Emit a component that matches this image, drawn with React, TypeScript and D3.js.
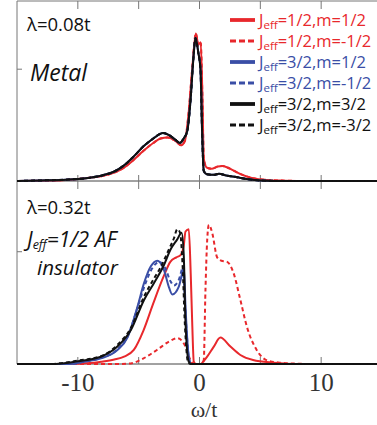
import * as d3 from "d3";

// omega/t, DOS pairs
const topJ12: [number, number][] = [
  [-15, 0], [-13, 0.003], [-11, 0.01], [-9, 0.03], [-8, 0.045], [-7, 0.075], [-6.2, 0.12],
  [-5.4, 0.19], [-4.6, 0.27], [-3.8, 0.34], [-3.2, 0.38], [-2.6, 0.39], [-2.0, 0.36],
  [-1.5, 0.32], [-1.2, 0.36], [-0.9, 0.6], [-0.6, 1.0], [-0.3, 1.32], [-0.1, 1.22],
  [0.1, 1.24], [0.25, 0.7], [0.35, 0.2], [0.6, 0.12], [1.0, 0.11], [1.5, 0.13],
  [1.9, 0.135], [2.5, 0.11], [3.2, 0.07], [4.2, 0.03], [5.5, 0.01], [7, 0.003], [9, 0], [15, 0],
];
const topJ32: [number, number][] = [
  [-15, 0], [-13, 0.005], [-11, 0.012], [-9, 0.03], [-8, 0.05], [-7, 0.085], [-6.2, 0.14],
  [-5.4, 0.22], [-4.6, 0.31], [-3.8, 0.38], [-3.0, 0.43], [-2.5, 0.41], [-2.0, 0.37],
  [-1.6, 0.34], [-1.3, 0.38], [-1.0, 0.45], [-0.74, 0.72], [-0.5, 1.1], [-0.33, 1.28],
  [-0.1, 1.15], [0.08, 1.0], [0.22, 0.42], [0.35, 0.09], [0.6, 0.06], [1.2, 0.055],
  [1.6, 0.065], [2.2, 0.05], [3, 0.035], [4, 0.015], [5, 0.005], [7, 0], [15, 0],
];

const botJ12m12: [number, number][] = [
  [-15, 0], [-11, 0], [-9, 0.008], [-8.1, 0.02], [-7, 0.04], [-6.2, 0.065], [-5.4, 0.125],
  [-4.6, 0.3], [-3.8, 0.54], [-2.95, 0.78], [-2.4, 0.91], [-1.9, 0.95], [-1.56, 0.97],
  [-1.3, 1.05], [-1.15, 1.18], [-0.88, 1.2], [-0.72, 0.8], [-0.6, 0.37], [-0.47, 0.02],
  [-0.3, 0], [0.1, 0], [0.3, 0.02], [0.63, 0.065], [1.15, 0.15], [1.72, 0.235],
  [2.54, 0.155], [3.36, 0.08], [4.4, 0.035], [6.1, 0.012], [8, 0], [15, 0],
];
const botJ12m_12: [number, number][] = [
  [-15, 0], [-6.5, 0], [-5.65, 0.005], [-4.6, 0.05], [-3.5, 0.125], [-2.5, 0.2], [-1.83, 0.23],
  [-1.15, 0.155], [-0.74, 0.035], [-0.5, 0], [0.2, 0], [0.35, 0.035], [0.49, 0.66],
  [0.63, 1.1], [0.77, 1.24], [1.04, 1.17], [1.45, 0.95], [1.8, 0.92], [2.27, 0.91],
  [2.8, 0.81], [3.36, 0.57], [3.9, 0.33], [4.7, 0.125], [5.5, 0.035], [6.6, 0.012],
  [8, 0.003], [9, 0], [15, 0],
];
const botJ32m12: [number, number][] = [
  [-15, 0], [-10.8, 0], [-9.5, 0.02], [-8.1, 0.05], [-6.75, 0.125], [-5.9, 0.24], [-5.1, 0.51],
  [-4.56, 0.72], [-4.0, 0.87], [-3.47, 0.92], [-2.93, 0.84], [-2.5, 0.68], [-2.24, 0.62],
  [-1.7, 0.69], [-1.4, 0.82], [-1.29, 0.87], [-1.15, 0.51], [-0.88, 0.065], [-0.7, 0], [15, 0],
];
const botJ32m_12: [number, number][] = [
  [-15, 0], [-10.5, 0], [-9.5, 0.02], [-8.1, 0.055], [-6.75, 0.13], [-5.9, 0.25], [-5.1, 0.5],
  [-4.5, 0.7], [-3.9, 0.85], [-3.3, 0.91], [-2.8, 0.85], [-2.4, 0.74], [-2.1, 0.7],
  [-1.7, 0.75], [-1.35, 0.86], [-1.2, 0.55], [-0.9, 0.08], [-0.7, 0], [15, 0],
];
const botJ32m32: [number, number][] = [
  [-15, 0], [-12.2, 0], [-10, 0.025], [-8.1, 0.065], [-6.75, 0.155], [-5.65, 0.3], [-4.56, 0.57],
  [-3.75, 0.72], [-2.93, 0.88], [-2.38, 1.02], [-1.83, 1.11], [-1.47, 1.17], [-1.29, 0.96],
  [-1.15, 0.37], [-0.88, 0.02], [-0.7, 0], [15, 0],
];
const botJ32m_32: [number, number][] = [
  [-15, 0], [-12.5, 0], [-10, 0.03], [-8.1, 0.07], [-6.75, 0.17], [-5.65, 0.32], [-4.56, 0.6],
  [-3.75, 0.76], [-3.2, 0.86], [-2.6, 1.0], [-2.1, 1.12], [-1.83, 1.2], [-1.6, 1.17],
  [-1.4, 0.9], [-1.2, 0.35], [-0.95, 0.02], [-0.75, 0], [15, 0],
];

const legendJ = ["1/2", "1/2", "3/2", "3/2", "3/2", "3/2"];
const legendM = ["1/2", "-1/2", "1/2", "-1/2", "3/2", "-3/2"];
const colors = ["#e8282c", "#e8282c", "#3a4ea6", "#3a4ea6", "#111111", "#111111"];
const dashed = [false, true, false, true, false, true];

const xTicks = [-10, 0, 10];
const xMinor = [-10, -5, 0, 5, 10];

const topSeries = [topJ12, topJ12, topJ32, topJ32, topJ32, topJ32];
const botSeries = [botJ12m12, botJ12m_12, botJ32m12, botJ32m_12, botJ32m32, botJ32m_32];
const botOrder = [1, 0, 2, 3, 4, 5];

export default function App() {
  const W = 377, H = 425;
  const left = 17, right = 382;
  const x = d3.scaleLinear().domain([-15, 15]).range([left, right]);
  const yTop = d3.scaleLinear().domain([0, 1.61]).range([181, 1]);
  const yBot = d3.scaleLinear().domain([0, 1.63]).range([364, 181]);

  const lineFor = (y: d3.ScaleLinear<number, number>) =>
    d3.line<[number, number]>()
      .x((d) => x(d[0]))
      .y((d) => y(d[1]))
      .curve(d3.curveMonotoneX);
  const lt = lineFor(yTop), lb = lineFor(yBot);
  const axisCol = "#777";
  const sans = "'Open Sans', sans-serif";
  const serif = "'Liberation Serif', serif";

  return (
    <svg width={W} height={H} style={{ position: "absolute", left: 0, top: 0, background: "#fff" }}>
      <defs>
        <clipPath id="cTop"><rect x={left} y={0} width={W - left} height={182} /></clipPath>
        <clipPath id="cBot"><rect x={left} y={181} width={W - left} height={184} /></clipPath>
      </defs>

      {/* frame */}
      <line x1={left} x2={W} y1={1} y2={1} stroke={axisCol} />
      <line x1={left} x2={left} y1={1} y2={364} stroke={axisCol} />
      <line x1={left} x2={W} y1={181} y2={181} stroke="#444" />
      <line x1={left} x2={W} y1={364} y2={364} stroke="#444" />
      {xMinor.map((t) => (
        <g key={t} stroke={axisCol}>
          <line x1={x(t)} x2={x(t)} y1={1} y2={9} />
          <line x1={x(t)} x2={x(t)} y1={175} y2={189} />
          <line x1={x(t)} x2={x(t)} y1={357} y2={364} />
        </g>
      ))}
      <line x1={left} x2={left + 5} y1={yTop(1)} y2={yTop(1)} stroke={axisCol} />
      <line x1={left} x2={left + 5} y1={yBot(1)} y2={yBot(1)} stroke={axisCol} />

      <g clipPath="url(#cTop)" fill="none">
        {topSeries.map((s, i) => (
          <path key={i} d={lt(s) ?? ""} stroke={colors[i]} strokeWidth={2}
            strokeDasharray={dashed[i] ? "4,3" : undefined} />
        ))}
      </g>
      <g clipPath="url(#cBot)" fill="none">
        {botOrder.map((i) => (
          <path key={i} d={lb(botSeries[i]) ?? ""} stroke={colors[i]} strokeWidth={2}
            strokeDasharray={dashed[i] ? "4,3" : undefined} />
        ))}
      </g>

      {/* legend */}
      {legendJ.map((j, i) => {
        const yy = 20 + i * 21;
        return (
          <g key={i}>
            <line x1={230} x2={255} y1={yy} y2={yy} stroke={colors[i]} strokeWidth={i % 2 ? 2.8 : 3.8}
              strokeDasharray={dashed[i] ? "6,3" : undefined} />
            <text x={259} y={yy + 6} fill={colors[i]} fontFamily={sans} fontSize={16.5}>
              J<tspan fontSize={11.5} dy={3}>eff</tspan>
              <tspan dy={-3}>={j},m={legendM[i]}</tspan>
            </text>
          </g>
        );
      })}

      {/* panel annotations */}
      <text x={27} y={31} fontFamily={sans} fontSize={18.5} fill="#111">λ=0.08t</text>
      <text x={30} y={81} fontFamily={sans} fontSize={23} fontStyle="italic" fill="#111">Metal</text>
      <text x={27} y={214} fontFamily={sans} fontSize={18.5} fill="#111">λ=0.32t</text>
      <text x={27} y={247} fontFamily={sans} fontSize={21} fontStyle="italic" fill="#111">
        J<tspan fontSize={12.5} dy={2}>eff</tspan><tspan dy={-2}>=1/2 AF</tspan>
      </text>
      <text x={37} y={275} fontFamily={sans} fontSize={20.5} fontStyle="italic" fill="#111">insulator</text>

      {/* x axis labels */}
      {xTicks.map((t) => (
        <text key={t} x={x(t)} y={391} textAnchor="middle" fontFamily={serif}
          fontSize={25} fill="#333">{t}</text>
      ))}
      <text x={204} y={417} textAnchor="middle" fontFamily={serif} fontSize={22}
        fill="#333">ω/t</text>
    </svg>
  );
}
